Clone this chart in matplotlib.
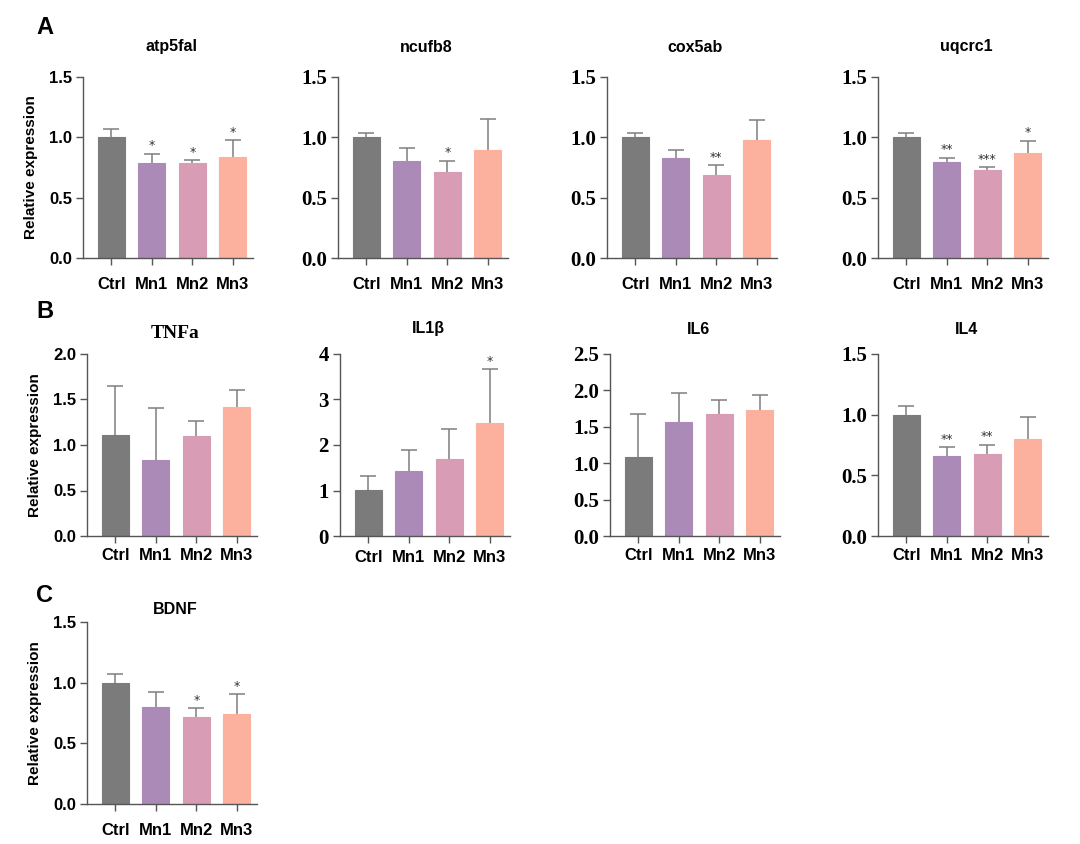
import numpy as np
import matplotlib.pyplot as plt

groups = ['Ctrl', 'Mn1', 'Mn2', 'Mn3']
colors = ['#7b7b7b', '#ab8ab7', '#d89db4', '#fbb19d']

genes = ['atp5fal', 'ncufb8', 'cox5ab', 'uqcrc1', 'TNFa', 'IL1β', 'IL6', 'IL4', 'BDNF']
means = {
    'atp5fal': [1.00, 0.79, 0.79, 0.835],
    'ncufb8': [1.00, 0.805, 0.716, 0.897],
    'cox5ab': [1.00, 0.831, 0.688, 0.975],
    'uqcrc1': [1.00, 0.793, 0.733, 0.870],
    'TNFa': [1.106, 0.839, 1.095, 1.418],
    'IL1β': [1.01, 1.43, 1.69, 2.48],
    'IL6': [1.09, 1.571, 1.68, 1.726],
    'IL4': [1.00, 0.662, 0.679, 0.80],
    'BDNF': [1.00, 0.80, 0.72, 0.742],
}
errs = {
    'atp5fal': [0.07, 0.075, 0.02, 0.14],
    'ncufb8': [0.04, 0.104, 0.09, 0.256],
    'cox5ab': [0.04, 0.066, 0.08, 0.165],
    'uqcrc1': [0.04, 0.037, 0.022, 0.103],
    'TNFa': [0.54, 0.564, 0.172, 0.186],
    'IL1β': [0.30, 0.455, 0.66, 1.19],
    'IL6': [0.586, 0.393, 0.188, 0.215],
    'IL4': [0.074, 0.072, 0.074, 0.178],
    'BDNF': [0.074, 0.126, 0.068, 0.165],
}
stars = {
    'atp5fal': ['', '*', '*', '*'],
    'ncufb8': ['', '', '*', ''],
    'cox5ab': ['', '', '**', ''],
    'uqcrc1': ['', '**', '***', '*'],
    'TNFa': ['', '', '', ''],
    'IL1β': ['', '', '', '*'],
    'IL6': ['', '', '', ''],
    'IL4': ['', '**', '**', ''],
    'BDNF': ['', '', '*', '*'],
}
yticks = {
    'atp5fal': [0, 0.5, 1.0, 1.5],
    'ncufb8': [0, 0.5, 1.0, 1.5],
    'cox5ab': [0, 0.5, 1.0, 1.5],
    'uqcrc1': [0, 0.5, 1.0, 1.5],
    'TNFa': [0, 0.5, 1.0, 1.5, 2.0],
    'IL1β': [0, 1, 2, 3, 4],
    'IL6': [0, 0.5, 1.0, 1.5, 2.0, 2.5],
    'IL4': [0, 0.5, 1.0, 1.5],
    'BDNF': [0, 0.5, 1.0, 1.5],
}

SANS = 'Liberation Sans'
SERIF = 'Liberation Serif'
W, H = 1080, 844

# left edge of axis, top, bottom, title centre (px) and x label pad per panel
layout = {
    'atp5fal': (83, 77, 258, 47, 9), 'ncufb8': (338, 77, 258, 47, 9),
    'cox5ab': (607, 77, 258, 47, 9), 'uqcrc1': (878, 77, 258, 47, 9),
    'TNFa': (87, 354, 536, 333, 4), 'IL1β': (340, 354, 536, 328, 5),
    'IL6': (610, 354, 536, 329, 4), 'IL4': (878, 354, 536, 329, 4),
    'BDNF': (87, 622, 804, 610, 9),
}
sans_ticks = {'atp5fal', 'TNFa', 'BDNF'}
serif_title = {'TNFa'}
ylabel_on = {'atp5fal', 'TNFa', 'BDNF'}

fig = plt.figure(figsize=(W / 100, H / 100), dpi=100)
x = np.arange(len(groups))

for g in genes:
    left, top, bot, ty, xpad = layout[g]
    ax = fig.add_axes([left / W, (H - bot) / H, 170 / W, (bot - top) / H])
    m = np.array(means[g])
    e = np.array(errs[g])
    # symmetric bars drawn behind, the bar hides the lower half
    ax.errorbar(x, m, yerr=e, fmt='none', ecolor='#7f7f7f',
                elinewidth=1.1, capsize=5.5, capthick=1.1, zorder=1)
    ax.bar(x, m, width=0.67, color=colors, edgecolor=colors, linewidth=0.8, zorder=2)
    ymax = yticks[g][-1]
    for xi, mi, ei, s in zip(x, m, e, stars[g]):
        if s:
            ax.annotate(s, (xi, mi + ei), xytext=(0, 1), textcoords='offset points',
                        ha='center', va='bottom', fontsize=9, color='#333333')
    ax.set_xlim(-0.7, 3.5)
    ax.set_ylim(0, ymax)
    ax.set_yticks(yticks[g])
    if g == 'IL1β':
        ax.set_yticklabels([str(t) for t in yticks[g]])
    else:
        ax.set_yticklabels(['{:.1f}'.format(t) for t in yticks[g]])
    ax.set_xticks(x)
    ax.set_xticklabels(groups, fontfamily=SANS, fontweight='bold', fontsize=12)
    if g in sans_ticks:
        for t in ax.get_yticklabels():
            t.set_fontfamily(SANS)
            t.set_fontweight('bold')
            t.set_fontsize(12)
    else:
        for t in ax.get_yticklabels():
            t.set_fontfamily(SERIF)
            t.set_fontweight('bold')
            t.set_fontsize(15)
    for side in ['top', 'right']:
        ax.spines[side].set_visible(False)
    for side in ['left', 'bottom']:
        ax.spines[side].set_color('#555555')
        ax.spines[side].set_linewidth(1.0)
    ax.tick_params(axis='both', direction='out', length=5, width=1.0, color='#555555', pad=3)
    ax.tick_params(axis='x', pad=xpad)
    tx = (left + 88) / W
    if g in serif_title:
        fig.text(tx, 1 - ty / H, g, fontfamily=SERIF, fontweight='bold', fontsize=14,
                 ha='center', va='center')
    else:
        fig.text(tx, 1 - ty / H, g, fontfamily=SANS, fontweight='bold', fontsize=11.5,
                 ha='center', va='center')
    if g in ylabel_on:
        ax.set_ylabel('Relative expression', fontfamily=SANS, fontweight='bold',
                      fontsize=11, labelpad=8)

for letter, (px, py) in zip('ABC', [(36, 28), (36, 311), (36, 596)]):
    fig.text(px / W, 1 - py / H, letter, fontfamily=SANS, fontweight='bold',
             fontsize=17, va='center', ha='left')

fig.savefig('out.png', dpi=100, facecolor='white')
